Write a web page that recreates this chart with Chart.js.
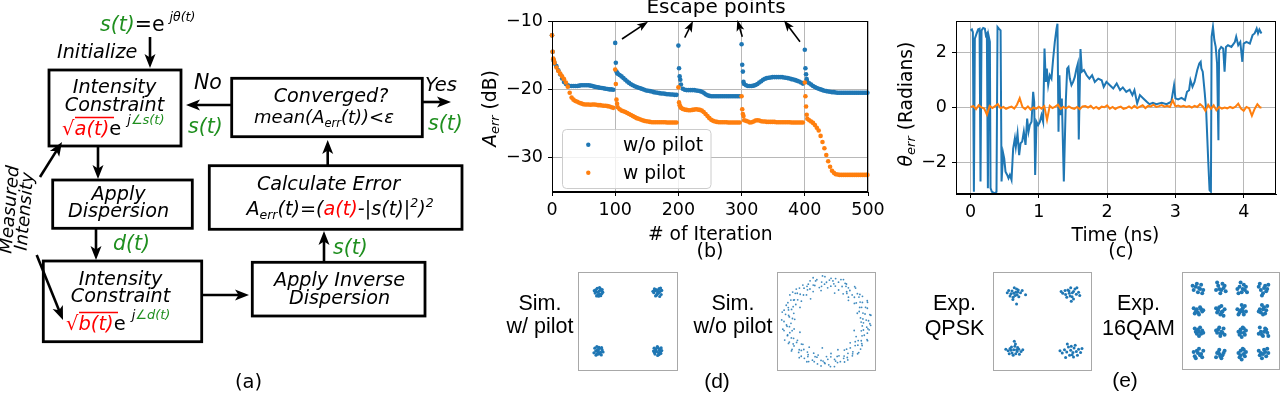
<!DOCTYPE html>
<html><head><meta charset="utf-8">
<script src="https://cdn.jsdelivr.net/npm/chart.js@4.4.1/dist/chart.umd.min.js"></script>
<style>
html,body{margin:0;padding:0;background:#fff;width:1280px;height:394px;overflow:hidden;font-family:"DejaVu Sans",sans-serif;}
.abs{position:absolute;}
.cbox{position:absolute;border:1px solid #a8a8a8;box-sizing:border-box;background:#fff;}
.cbox canvas{display:block;}
svg text{font-family:"DejaVu Sans",sans-serif;}
svg text.lib{font-family:"Liberation Sans",Arial,sans-serif;}
</style></head><body>
<canvas id="cb" class="abs" style="left:490px;top:0" width="400" height="250"></canvas>
<canvas id="cc" class="abs" style="left:885px;top:0" width="395" height="250"></canvas>
<div class="cbox" style="left:578px;top:272px;width:100px;height:99px"><canvas id="d1" width="98" height="97"></canvas></div>
<div class="cbox" style="left:777px;top:272px;width:99px;height:99px"><canvas id="d2" width="97" height="97"></canvas></div>
<div class="cbox" style="left:993px;top:272px;width:99px;height:99px"><canvas id="e1" width="97" height="97"></canvas></div>
<div class="cbox" style="left:1182px;top:272px;width:98px;height:98px"><canvas id="e2" width="96" height="96"></canvas></div>

<svg id="ov" class="abs" style="left:0;top:0;pointer-events:none" width="1280" height="394" viewBox="0 0 1280 394">
<!-- (a) flowchart -->
<g fill="none" stroke="#000" stroke-width="2.8">
<rect x="49" y="70" width="132" height="76"/>
<rect x="52.7" y="180" width="139.6" height="48.3"/>
<rect x="43.3" y="261" width="158.4" height="80.7"/>
<rect x="252.3" y="262.3" width="172.7" height="53.7"/>
<rect x="209.3" y="165.7" width="252.7" height="63.6"/>
<rect x="231.7" y="78.3" width="190.6" height="58.4"/>
</g>
<g font-style="italic" font-size="19.2" fill="#000">
<text x="100" y="31" font-size="20.5"><tspan fill="#1f8f1f">s(t)</tspan><tspan font-style="normal">=e</tspan><tspan font-size="12.5" dy="-10" dx="5">jθ(t)</tspan></text>
<text x="57" y="57.5">Initialize</text>
<text x="114.5" y="92.7" text-anchor="middle">Intensity</text>
<text x="114.5" y="110.7" text-anchor="middle">Constraint</text>
<text x="62" y="135" font-size="19.5"><tspan fill="#ff0000">√a(t)</tspan><tspan font-style="normal">e</tspan><tspan font-size="13" dy="-11" dx="6">j</tspan><tspan font-size="13" fill="#1f8f1f">∠s(t)</tspan></text>
<text x="118.5" y="200" text-anchor="middle">Apply</text>
<text x="118.5" y="216.7" text-anchor="middle">Dispersion</text>
<text x="113" y="250" font-size="20.5" fill="#1f8f1f">d(t)</text>
<text x="120.5" y="285" text-anchor="middle">Intensity</text>
<text x="120.5" y="301.7" text-anchor="middle">Constraint</text>
<text x="66" y="330" font-size="19.5"><tspan fill="#ff0000">√b(t)</tspan><tspan font-style="normal">e</tspan><tspan font-size="13" dy="-11" dx="6">j</tspan><tspan font-size="13" fill="#1f8f1f">∠d(t)</tspan></text>
<text x="339.5" y="285.7" text-anchor="middle">Apply Inverse</text>
<text x="339.5" y="304" text-anchor="middle">Dispersion</text>
<text x="333" y="254" font-size="20.5" fill="#1f8f1f">s(t)</text>
<text x="328.5" y="190" text-anchor="middle">Calculate Error</text>
<text x="340" y="215" text-anchor="middle">A<tspan font-size="12.5" dy="4">err</tspan><tspan dy="-4">(t)=(</tspan><tspan fill="#ff0000">a(t)</tspan>-|s(t)|<tspan font-size="12.5" dy="-8">2</tspan><tspan dy="8">)</tspan><tspan font-size="12.5" dy="-8">2</tspan></text>
<text x="331" y="101.7" text-anchor="middle">Converged?</text>
<text x="324" y="123.3" text-anchor="middle" font-size="18">mean(A<tspan font-size="11.5" dy="4">err</tspan><tspan dy="-4">(t))&lt;ε</tspan></text>
<text x="194" y="89" font-size="20.5">No</text>
<text x="188" y="132.5" font-size="20.5" fill="#1f8f1f">s(t)</text>
<text x="425" y="90.5" font-size="19.5">Yes</text>
<text x="428" y="130" font-size="20.5" fill="#1f8f1f">s(t)</text>
<text transform="translate(15,210) rotate(-85)" text-anchor="middle" font-size="18">Measured</text>
<text transform="translate(30,212) rotate(-85)" text-anchor="middle" font-size="18">Intensity</text>
</g>
<line x1="75" y1="117.5" x2="114" y2="117.5" stroke="#ff0000" stroke-width="1.4"/>
<line x1="79" y1="312.5" x2="118" y2="312.5" stroke="#ff0000" stroke-width="1.4"/>
<text x="248.5" y="387.5" text-anchor="middle" font-size="19.5">(a)</text>
<g id="arrows"></g>

<!-- (b) texts -->
<text x="716" y="13" text-anchor="middle" font-size="20">Escape points</text>
<text x="710.3" y="240" text-anchor="middle" font-size="18.7">&#35; of Iteration</text>
<text x="710" y="257" text-anchor="middle" font-size="19">(b)</text>
<text transform="translate(496,108.5) rotate(-90)" text-anchor="middle" font-size="18.7"><tspan font-style="italic">A</tspan><tspan font-style="italic" font-size="13" dy="3">err</tspan><tspan dy="-3"> (dB)</tspan></text>
<rect x="562.5" y="129.5" width="148.5" height="59" rx="4" fill="#fff" fill-opacity="0.8" stroke="#cccccc" stroke-width="1"/>
<circle cx="588.3" cy="144.7" r="2.2" fill="#1f77b4"/>
<text x="623" y="151" font-size="18.7">w/o pilot</text>
<circle cx="588.3" cy="172.7" r="2.2" fill="#ff7f0e"/>
<text x="623" y="179" font-size="18.7">w pilot</text>

<!-- (c) texts -->
<text x="1115.5" y="240.7" text-anchor="middle" font-size="18.7">Time (ns)</text>
<text x="1121" y="257" text-anchor="middle" font-size="19">(c)</text>
<text transform="translate(912,104) rotate(-90)" text-anchor="middle" font-size="18.7"><tspan font-style="italic">θ</tspan><tspan font-style="italic" font-size="13" dy="3">err</tspan><tspan dy="-3"> (Radians)</tspan></text>

<!-- (d),(e) labels -->
<g font-size="21.5" text-anchor="middle">
<text class="lib" x="540" y="310">Sim.</text><text class="lib" x="540" y="333">w/ pilot</text>
<text class="lib" x="733" y="310">Sim.</text><text class="lib" x="733" y="333">w/o pilot</text>
<text class="lib" x="954.5" y="310">Exp.</text><text class="lib" x="954.5" y="335">QPSK</text>
<text class="lib" x="1138.5" y="310">Exp.</text><text class="lib" x="1138.5" y="335">16QAM</text>
</g>
<text class="lib" x="717" y="388" text-anchor="middle" font-size="21">(d)</text>
<text class="lib" x="1125" y="386.5" text-anchor="middle" font-size="21">(e)</text>
</svg>

<script>
// ---------- (b) A_err vs iteration ----------
const iterations = [
0,1,2,3,4,7,10,13,16,19,22,25,28,31,34,37,40,43,46,49,52,55,58,61,64,67,70,73,76,79,82,85,88,91,94,97,
100,101,102,103,104,107,110,113,116,119,122,125,128,131,134,137,140,143,146,149,152,155,158,161,164,167,170,173,176,179,182,185,188,191,194,197,
200,201,202,203,204,207,210,213,216,219,222,225,228,231,234,237,240,243,246,249,252,255,258,261,264,267,270,273,276,279,282,285,288,291,294,297,
300,301,302,303,304,307,310,313,316,319,322,325,328,331,334,337,340,343,346,349,352,355,358,361,364,367,370,373,376,379,382,385,388,391,394,397,
400,401,402,403,404,407,410,413,416,419,422,425,428,431,434,437,440,443,446,449,452,455,458,461,464,467,470,473,476,479,482,485,488,491,494,497,
499];
const aerrNoPilot = [
-12.1,-14.5,-15.6,-15.9,-16.2,-16.6,-17.2,-17.8,-18.4,-18.9,-19.2,-19.4,-19.5,-19.5,-19.5,-19.5,-19.5,-19.45,-19.4,-19.4,-19.4,-19.4,-19.4,-19.45,-19.5,-19.6,-19.65,-19.7,-19.75,-19.8,-19.85,-19.9,-19.95,-20.0,-20.0,-20.05,
-13.2,-16.1,-17.4,-17.6,-17.7,-17.9,-18.1,-18.35,-18.6,-18.85,-19.05,-19.25,-19.4,-19.55,-19.65,-19.75,-19.85,-19.95,-20.05,-20.15,-20.2,-20.25,-20.3,-20.4,-20.45,-20.5,-20.55,-20.6,-20.6,-20.65,-20.7,-20.7,-20.75,-20.75,-20.8,-20.8,
-13.6,-16.9,-18.1,-18.6,-19.3,-19.9,-20.05,-20.1,-20.1,-20.1,-20.1,-20.1,-20.15,-20.2,-20.25,-20.35,-20.5,-20.7,-20.85,-20.95,-21.0,-21.0,-21.0,-21.0,-21.0,-21.0,-21.0,-21.0,-21.0,-21.0,-21.0,-21.0,-21.0,-21.0,-21.0,-21.0,
-13.4,-16.4,-17.4,-18.9,-19.2,-19.4,-19.5,-19.5,-19.5,-19.45,-19.35,-19.2,-19.0,-18.8,-18.6,-18.45,-18.35,-18.3,-18.25,-18.2,-18.2,-18.2,-18.2,-18.2,-18.2,-18.25,-18.3,-18.35,-18.4,-18.5,-18.55,-18.65,-18.75,-18.85,-19.0,-19.15,
-14.2,-16.9,-17.8,-18.5,-18.9,-19.1,-19.3,-19.5,-19.65,-19.8,-19.9,-20.0,-20.1,-20.2,-20.25,-20.3,-20.35,-20.4,-20.4,-20.45,-20.5,-20.5,-20.5,-20.5,-20.5,-20.5,-20.5,-20.5,-20.5,-20.5,-20.5,-20.5,-20.5,-20.5,-20.5,-20.5,
-20.5];
const aerrPilot = [
-12.1,-14.5,-15.5,-15.8,-16.1,-16.8,-17.3,-17.7,-18.1,-18.5,-19.0,-19.6,-20.5,-21.2,-21.5,-21.7,-21.8,-21.95,-22.05,-22.15,-22.2,-22.2,-22.2,-22.25,-22.2,-22.2,-22.25,-22.3,-22.3,-22.35,-22.4,-22.4,-22.45,-22.5,-22.6,-22.7,
-17.1,-19.2,-21.5,-22.1,-22.6,-22.9,-23.1,-23.2,-23.3,-23.45,-23.6,-23.75,-23.9,-24.05,-24.2,-24.3,-24.4,-24.5,-24.6,-24.65,-24.7,-24.75,-24.8,-24.8,-24.8,-24.8,-24.8,-24.8,-24.8,-24.8,-24.85,-24.85,-24.85,-24.85,-24.85,-24.85,
-19.7,-21.9,-22.3,-22.5,-22.7,-22.85,-22.95,-23.0,-23.05,-23.05,-23.0,-22.95,-22.9,-22.95,-23.0,-23.1,-23.3,-23.6,-23.9,-24.2,-24.45,-24.6,-24.7,-24.75,-24.8,-24.8,-24.8,-24.8,-24.8,-24.85,-24.85,-24.85,-24.85,-24.85,-24.85,-24.85,
-21.0,-22.9,-23.6,-23.9,-24.5,-24.6,-24.7,-24.85,-24.8,-24.7,-24.55,-24.5,-24.55,-24.65,-24.7,-24.7,-24.75,-24.75,-24.75,-24.75,-24.75,-24.8,-24.8,-24.8,-24.8,-24.8,-24.8,-24.8,-24.8,-24.85,-24.85,-24.85,-24.85,-24.85,-24.85,-24.85,
-19.0,-21.0,-22.5,-23.7,-24.3,-24.5,-24.7,-24.9,-25.2,-25.6,-26.0,-26.8,-27.7,-28.6,-29.6,-30.5,-31.3,-31.9,-32.2,-32.4,-32.45,-32.5,-32.5,-32.5,-32.5,-32.5,-32.5,-32.5,-32.5,-32.5,-32.5,-32.5,-32.5,-32.5,-32.5,-32.5,
-32.5];
const bTicksX = [0,100,200,300,400,500];
const bTicksY = [-30,-20,-10];

// ---------- (c) theta_err vs time ----------
const thetaNoPilotT = [0,0.02,0.034,0.049,0.063,0.088,0.112,0.132,0.146,0.161,0.185,0.21,0.224,0.239,0.254,0.268,0.283,0.293,0.312,0.33,0.356,0.38,0.395,0.415,0.44,0.454,0.478,0.493,0.512,0.537,0.556,0.576,0.60,0.624,0.649,0.663,0.688,0.712,0.732,0.756,0.78,0.805,0.829,0.849,0.868,0.893,0.917,0.932,0.946,0.966,0.99,1.015,1.039,1.063,1.083,1.102,1.117,1.137,1.161,1.185,1.21,1.234,1.259,1.273,1.288,1.302,1.317,1.337,1.366,1.395,1.415,1.434,1.454,1.478,1.502,1.527,1.551,1.571,1.585,1.61,1.63,1.66,1.70,1.74,1.78,1.82,1.87,1.92,1.95,1.99,2.04,2.09,2.14,2.19,2.23,2.28,2.33,2.37,2.40,2.44,2.48,2.53,2.58,2.62,2.67,2.72,2.80,2.87,2.94,2.98,3.0,3.04,3.09,3.14,3.17,3.20,3.22,3.25,3.28,3.32,3.35,3.37,3.38,3.40,3.43,3.45,3.48,3.50,3.52,3.53,3.55,3.57,3.59,3.61,3.63,3.64,3.67,3.70,3.72,3.74,3.77,3.82,3.87,3.89,3.92,3.95,3.98,4.0,4.04,4.09,4.13,4.16,4.19,4.21,4.23,4.26];
const thetaNoPilotV = [2.80,2.84,2.74,-3.06,2.50,2.68,2.84,2.86,-2.69,2.80,2.89,2.86,2.62,2.68,-2.93,2.56,2.38,-2.93,-3.06,-3.08,-3.12,-3.06,2.92,2.86,2.80,-2.69,-1.67,-1.85,-2.33,-2.45,-2.57,-2.45,-2.63,-1.49,-1.12,-1.43,-0.94,-1.73,-1.30,-1.24,-0.88,-1.36,-0.40,-0.88,-0.64,-0.52,0.57,0.21,-2.45,-0.52,-0.64,-0.52,-0.28,-0.52,2.14,0.93,1.41,0.81,1.17,1.05,1.78,2.38,2.86,3.04,-0.88,1.17,-0.28,0.33,-2.69,0.21,1.41,1.47,1.05,0.81,0.93,1.11,1.41,1.59,-1.16,2.12,1.30,1.36,1.17,1.05,1.17,0.93,1.05,0.99,0.75,0.93,0.81,0.69,0.87,0.63,0.73,0.57,0.65,0.45,0.63,0.15,0.45,0.33,0.21,0.12,0.17,0.12,0.17,0.12,0.21,0.81,0.33,0.29,0.35,0.27,0.57,0.63,0.99,0.75,0.93,1.36,1.60,1.66,1.42,1.30,0.51,-0.10,-1.91,-3.0,-3.06,2.57,2.93,2.45,2.2,1.6,-1.19,2.08,2.2,2.14,1.30,2.2,2.26,2.2,2.38,2.57,2.26,2.38,1.66,2.32,2.38,2.32,2.63,2.69,2.87,2.69,2.83,2.69];
const thetaPilotT = [0,0.04,0.08,0.12,0.16,0.20,0.24,0.28,0.32,0.36,0.40,0.44,0.48,0.52,0.56,0.60,0.64,0.68,0.72,0.76,0.80,0.84,0.88,0.92,0.96,1.00,1.04,1.08,1.12,1.16,1.20,1.24,1.28,1.32,1.36,1.40,1.44,1.48,1.52,1.56,1.60,1.64,1.68,1.72,1.76,1.80,1.84,1.88,1.92,1.96,2.00,2.04,2.08,2.12,2.16,2.20,2.24,2.28,2.32,2.36,2.40,2.44,2.48,2.52,2.56,2.60,2.64,2.68,2.72,2.76,2.80,2.84,2.88,2.92,2.96,3.00,3.04,3.08,3.12,3.16,3.20,3.24,3.28,3.32,3.36,3.40,3.44,3.48,3.52,3.56,3.60,3.64,3.68,3.72,3.76,3.80,3.84,3.88,3.92,3.96,4.00,4.04,4.08,4.12,4.16,4.20,4.24,4.26];
const thetaPilotV = [0.02,0.05,-0.06,0.08,0.0,-0.04,-0.26,0.06,-0.02,0.05,0.12,-0.03,0.02,-0.05,0.0,0.03,-0.04,0.10,0.34,0.02,-0.06,0.04,-0.08,0.0,-0.05,0.03,-0.04,0.05,-0.45,0.06,-0.02,0.03,0.10,-0.05,0.02,-0.03,0.04,-0.02,-0.05,0.02,-0.06,0.04,0.05,0.0,0.06,-0.04,0.02,-0.05,0.03,0.01,0.08,-0.04,0.02,-0.06,0.0,0.03,-0.05,-0.02,0.04,-0.03,0.06,-0.02,0.03,0.08,-0.02,0.06,0.04,0.10,0.02,0.05,0.09,0.03,0.06,0.02,0.26,0.04,0.07,0.03,0.06,0.02,0.05,0.0,0.06,0.02,0.12,0.04,-0.12,0.10,-0.05,0.08,-0.10,0.02,-0.04,0.0,-0.03,0.02,-0.02,0.03,0.14,-0.04,-0.12,0.02,-0.03,-0.30,-0.05,0.12,0.0,0.0];
const cTicksX = [0,1,2,3,4];
const cTicksY = [-2,0,2];

// ---------- (d) simulated constellations ----------
const simPilotPts = [
[-0.98,1.05],[-1.08,1.03],[-0.89,0.96],[-1.03,0.91],[-0.94,1.12],[-1.12,0.98],[-0.91,1.07],[-1.05,1.14],[-0.86,1.01],[-1.0,0.87],[-1.1,1.09],[-0.96,0.94],[-1.15,1.06],[-0.93,0.89],[-1.02,1.0],[-0.88,1.1],[-1.07,0.88],[-0.97,1.17],
[1.03,0.97],[0.92,1.06],[1.1,1.04],[0.97,0.9],[1.06,1.13],[0.88,0.99],[1.13,0.93],[0.95,1.1],[1.01,1.02],[1.08,0.86],[0.9,1.12],[1.15,1.07],[0.99,0.95],[0.85,1.04],[1.05,1.0],[0.94,0.88],[1.11,1.15],[1.0,1.08],
[-1.04,-0.97],[-0.93,-1.06],[-1.1,-1.02],[-0.99,-0.89],[-1.07,-1.13],[-0.88,-0.98],[-1.13,-0.92],[-0.96,-1.1],[-1.01,-1.01],[-0.91,-1.15],[-1.06,-0.86],[-0.85,-1.05],[-1.16,-1.08],[-0.97,-0.93],[-1.03,-1.04],[-0.9,-0.9],[-1.09,-1.16],[-1.0,-1.12],
[0.97,-1.03],[1.08,-0.95],[0.9,-1.07],[1.02,-0.9],[1.12,-1.1],[0.94,-0.97],[1.06,-1.14],[0.87,-1.02],[1.15,-1.0],[1.0,-0.86],[0.92,-1.12],[1.09,-1.05],[0.96,-0.93],[1.04,-1.08],[1.13,-0.91],[0.89,-0.92],[1.01,-1.17],[1.07,-0.99]];
const ringAngleDeg = [2,6,9,13,15,20,23,25,30,33,37,39,44,46,51,54,57,59,64,66,71,74,76,81,84,88,90,95,98,100,105,108,112,114,119,121,125,129,131,136,139,141,146,149,152,156,158,163,166,168,173,176,180,183,185,190,193,197,200,202,207,210,213,217,220,224,226,231,234,236,241,244,248,250,255,258,261,265,268,270,275,278,282,285,287,292,295,299,302,304,309,312,316,318,323,326,329,333,336,340,342,347,350,353,357,359];
const ringRadius = [0.86,0.74,0.95,0.81,0.69,0.9,0.78,0.98,0.84,0.72,0.88,0.93,0.66,0.8,0.97,0.75,0.87,0.7,0.92,0.83,0.96,0.64,0.79,0.89,0.94,0.73,0.85,0.99,0.77,0.68,0.91,0.82,0.95,0.71,0.87,0.8,0.6,0.93,0.76,0.88,0.97,0.7,0.84,0.9,0.65,0.79,0.94,0.86,0.73,0.98,0.81,0.69,0.92,0.77,0.87,0.96,0.72,0.83,0.9,0.62,0.8,0.95,0.75,0.88,0.99,0.71,0.85,0.78,0.93,0.67,0.82,0.97,0.74,0.89,0.8,0.94,0.58,0.86,0.91,0.76,0.98,0.7,0.84,0.92,0.79,0.66,0.88,0.95,0.73,0.83,0.9,0.77,0.97,0.69,0.85,0.93,0.8,0.72,0.96,0.87,0.63,0.82,0.91,0.78,0.94,0.75];
const ringAngleDeg2 = [1,4,8,11,17,18,22,27,28,32,35,41,42,48,49,53,56,62,61,68,69,73,79,78,83,86,92,93,97,103,102,107,110,116,117,123,124,127,133,134,138,143,144,147,151,154,160,161,165,171,170,175,178,187,188,192,195,199,204,205,209,215,214,219,222,228,229,233,238,239,242,246,252,253,256,263,262,267,272,273,277,280,283,289,290,294,297,300,306,307,311,314,320,321,325,328,331,335,338,344,345,349,352,355,358];
const ringRadius2 = [0.91,0.79,0.97,0.85,0.74,0.93,0.82,0.99,0.88,0.76,0.95,0.8,0.9,0.71,0.96,0.84,0.78,0.92,0.87,0.98,0.73,0.89,0.83,0.95,0.77,0.9,0.97,0.81,0.86,0.93,0.75,0.99,0.84,0.9,0.79,0.94,0.87,0.72,0.96,0.82,0.91,0.78,0.98,0.85,0.76,0.93,0.88,0.8,0.95,0.83,0.9,0.74,0.97,0.86,0.81,0.94,0.77,0.89,0.99,0.84,0.92,0.79,0.87,0.96,0.73,0.9,0.83,0.98,0.78,0.93,0.86,0.95,0.8,0.91,0.75,0.97,0.85,0.89,0.82,0.94,0.77,0.99,0.88,0.92,0.79,0.96,0.84,0.9,0.74,0.93,0.87,0.97,0.81,0.95,0.76,0.9,0.86,0.98,0.83,0.92,0.78,0.94,0.88,0.96,0.8];

// ---------- (e) experimental constellations ----------
const expQpskPts = [
[-0.95,1.04],[-1.12,0.98],[-0.86,1.12],[-1.04,0.86],[-0.9,0.95],[-1.2,1.1],[-1.0,1.2],[-0.78,1.02],[-1.08,1.08],[-0.97,0.92],[-1.15,0.9],[-0.84,0.88],[-1.02,1.0],[-0.92,1.15],[-1.25,1.02],[-0.72,1.1],[-1.05,0.78],[-0.88,1.05],[-0.6,0.95],[-0.92,0.62],
[0.95,1.0],[1.1,1.06],[0.82,0.96],[1.05,0.88],[1.2,0.97],[0.9,1.12],[1.0,1.2],[0.72,1.0],[1.15,1.15],[0.98,0.9],[1.28,1.04],[0.86,0.86],[1.06,1.02],[0.94,1.08],[1.32,0.92],[0.66,1.06],[1.1,0.8],[0.8,1.1],[1.02,0.72],[1.22,1.2],
[-1.02,-1.0],[-0.9,-1.06],[-1.15,-0.96],[-0.98,-0.88],[-1.08,-1.12],[-0.84,-0.98],[-1.22,-1.04],[-0.95,-1.14],[-1.1,-0.9],[-0.88,-0.92],[-1.3,-0.98],[-0.76,-1.06],[-1.04,-1.2],[-0.96,-0.8],[-0.7,-1.0],[-1.18,-1.14],[-1.0,-0.7],[-0.82,-1.16],[-1.12,-1.02],[-0.92,-1.0],
[1.0,-1.02],[1.12,-0.94],[0.86,-1.08],[1.05,-1.18],[1.2,-1.06],[0.92,-0.9],[1.28,-0.98],[0.78,-1.0],[1.1,-1.26],[0.96,-1.2],[1.35,-1.1],[0.7,-1.12],[1.16,-0.84],[0.88,-0.8],[1.02,-0.88],[1.24,-1.2],[0.82,-1.28],[1.4,-0.96],[0.62,-1.04],[1.08,-1.1]];
const exp16qamPts = [
[-3.3,3.2],[-2.8,3.4],[-3.1,2.7],[-2.6,2.9],[-3.5,2.9],[-2.9,3.0],[-3.2,3.5],[-2.7,2.6],[-3.0,3.1],[-3.6,3.3],
[-1.2,3.3],[-0.7,3.1],[-1.0,2.6],[-1.4,2.9],[-0.8,3.5],[-1.1,3.0],[-0.5,2.8],[-1.3,3.6],[-0.9,2.9],[-0.6,3.3],
[0.8,3.2],[1.2,3.4],[1.0,2.7],[0.6,3.0],[1.3,2.9],[0.9,3.6],[1.4,3.2],[0.7,2.6],[1.1,3.0],[1.5,2.7],
[3.2,3.3],[2.8,2.9],[3.0,2.6],[3.4,3.0],[2.7,3.5],[3.1,3.1],[2.9,2.4],[3.5,3.4],[3.3,2.8],[2.6,3.2],
[-3.2,1.1],[-2.7,0.9],[-3.4,0.7],[-2.9,1.3],[-3.1,0.8],[-2.6,1.0],[-3.5,1.2],[-3.0,0.6],[-2.8,1.1],[-3.3,0.9],
[-1.1,1.3],[-0.8,0.9],[-1.3,0.8],[-0.9,1.4],[-1.0,0.6],[-0.6,1.1],[-1.2,1.0],[-0.7,0.5],[-1.4,1.2],[-0.9,0.8],
[1.1,1.2],[0.8,0.8],[1.3,1.4],[0.9,1.0],[1.2,0.6],[0.6,1.1],[1.0,1.5],[1.4,0.9],[0.7,0.6],[1.1,0.9],
[3.1,1.3],[2.8,0.8],[3.3,1.0],[2.9,1.5],[3.0,0.6],[3.4,1.4],[2.7,1.1],[3.2,0.7],[2.6,0.9],[3.0,1.1],
[-3.1,-0.8],[-2.8,-1.2],[-3.3,-1.0],[-2.9,-0.6],[-3.0,-1.4],[-3.4,-0.7],[-2.7,-0.9],[-3.2,-1.2],[-2.6,-1.1],[-3.0,-1.0],
[-1.2,-0.8],[-0.8,-1.1],[-1.0,-1.4],[-1.3,-1.1],[-0.7,-0.7],[-1.1,-0.6],[-0.9,-1.0],[-1.4,-0.9],[-0.6,-1.3],[-1.0,-1.2],
[0.9,-0.8],[1.2,-1.1],[0.8,-1.3],[1.1,-0.6],[1.4,-0.9],[0.7,-1.0],[1.0,-1.5],[1.3,-1.3],[0.9,-1.1],[1.2,-0.7],
[3.2,-0.7],[2.8,-1.0],[3.0,-1.4],[3.4,-1.1],[2.7,-0.6],[3.1,-1.0],[2.9,-1.3],[3.3,-0.8],[2.6,-1.2],[3.5,-1.4],
[-3.2,-2.8],[-2.8,-3.1],[-3.4,-3.3],[-3.0,-2.6],[-2.7,-3.4],[-3.5,-2.9],[-3.1,-3.0],[-2.6,-2.8],[-3.3,-3.5],[-2.9,-3.2],
[-1.1,-2.7],[-0.8,-3.2],[-1.3,-3.0],[-0.9,-3.5],[-1.2,-2.9],[-0.6,-2.8],[-1.0,-3.3],[-1.4,-3.4],[-0.7,-3.0],[-1.1,-3.1],
[0.9,-2.8],[1.2,-3.1],[0.8,-3.4],[1.1,-2.6],[1.3,-3.3],[0.7,-3.0],[1.0,-3.6],[1.4,-2.9],[0.9,-3.2],[1.2,-2.7],
[3.1,-2.7],[2.8,-3.0],[3.3,-3.3],[2.9,-3.5],[3.2,-2.9],[2.7,-3.2],[3.4,-2.6],[3.0,-3.1],[2.6,-2.8],[3.5,-3.0]];

const BLUE = '#1f77b4', ORANGE = '#ff7f0e';
Chart.defaults.font.family = "'DejaVu Sans', sans-serif";
Chart.defaults.color = '#000';

const fmt = v => String(v).replace('-', '\u2212');
const fixedTicks = arr => scale => { scale.ticks = arr.map(v => ({value: v})); };
const framePlugin = {
  id: 'frame',
  afterDatasetsDraw(chart) {
    const a = chart.chartArea, ctx = chart.ctx;
    ctx.save(); ctx.strokeStyle = '#000'; ctx.lineWidth = 1;
    ctx.strokeRect(Math.round(a.left) + 0.5, Math.round(a.top) + 0.5, Math.round(a.right - a.left) - 1, Math.round(a.bottom - a.top) - 1);
    ctx.restore();
  }
};
function axisX(min, max, ticks, h) {
  return {type: 'linear', min, max, afterBuildTicks: fixedTicks(ticks),
    afterFit(s) { s.height = h; s.paddingLeft = 0; s.paddingRight = 0; },
    grid: {color: '#b8b8b8', lineWidth: 1, drawTicks: true, tickLength: 4, tickColor: '#000', tickWidth: 1},
    border: {display: true, color: '#000', width: 1},
    ticks: {color: '#000', font: {size: 17.5}, padding: 4, maxRotation: 0, autoSkip: false, callback: v => fmt(v)}};
}
function axisY(min, max, ticks, w) {
  return {type: 'linear', min, max, afterBuildTicks: fixedTicks(ticks),
    afterFit(s) { s.width = w; s.paddingTop = 0; s.paddingBottom = 0; },
    grid: {color: '#b8b8b8', lineWidth: 1, drawTicks: true, tickLength: 4, tickColor: '#000', tickWidth: 1},
    border: {display: true, color: '#000', width: 1},
    ticks: {color: '#000', font: {size: 17.5}, padding: 5, autoSkip: false, callback: v => fmt(v)}};
}
const common = {responsive: false, animation: false, events: [],
  plugins: {legend: {display: false}, tooltip: {enabled: false}}};

new Chart(document.getElementById('cb'), {
  type: 'scatter',
  data: {datasets: [
    {label: 'w pilot', data: iterations.map((x, i) => ({x, y: aerrPilot[i]})), backgroundColor: ORANGE, borderColor: ORANGE, pointBorderWidth: 0, pointRadius: 2.3, clip: false},
    {label: 'w/o pilot', data: iterations.map((x, i) => ({x, y: aerrNoPilot[i]})), backgroundColor: BLUE, borderColor: BLUE, pointBorderWidth: 0, pointRadius: 2.3, clip: false}
  ]},
  options: Object.assign({}, common, {
    layout: {padding: {left: 0, right: 22, top: 21, bottom: 0}, autoPadding: false},
    scales: {x: axisX(0, 500, bTicksX, 58), y: axisY(-35, -10, bTicksY, 62)}
  }),
  plugins: [framePlugin]
});

new Chart(document.getElementById('cc'), {
  type: 'line',
  data: {datasets: [
    {label: 'w pilot', data: thetaPilotT.map((t, i) => ({x: t, y: thetaPilotV[i]})), borderColor: ORANGE, borderWidth: 2, pointRadius: 0, tension: 0, fill: false},
    {label: 'w/o pilot', data: thetaNoPilotT.map((t, i) => ({x: t, y: thetaNoPilotV[i]})), borderColor: BLUE, borderWidth: 2, pointRadius: 0, tension: 0, fill: false}
  ]},
  options: Object.assign({}, common, {
    layout: {padding: {left: 0, right: 4, top: 21, bottom: 0}, autoPadding: false},
    scales: {x: axisX(-0.213, 4.473, cTicksX, 56), y: axisY(-Math.PI, Math.PI, cTicksY, 71)}
  }),
  plugins: [framePlugin]
});

function constellation(id, pts, lim, r, color) {
  new Chart(document.getElementById(id), {
    type: 'scatter',
    data: {datasets: [{data: pts.map(p => ({x: p[0], y: p[1]})), backgroundColor: color, pointBorderWidth: 0, pointRadius: r}]},
    options: Object.assign({}, common, {
      layout: {padding: 0, autoPadding: false},
      scales: {x: {display: false, min: -lim, max: lim}, y: {display: false, min: -lim, max: lim}}
    })
  });
}
constellation('d1', simPilotPts, 1.67, 1.6, BLUE);
const toXY = (angles, radii) => angles.map((a, i) => [radii[i] * Math.cos(a * Math.PI / 180), radii[i] * Math.sin(a * Math.PI / 180)]);
const ringPts = toXY(ringAngleDeg, ringRadius).concat(toXY(ringAngleDeg2, ringRadius2));
constellation('d2', ringPts, 1.05, 0.9, 'rgba(31,119,180,0.85)');
constellation('e1', expQpskPts, 1.72, 1.5, BLUE);
constellation('e2', exp16qamPts, 4.5, 2.0, BLUE);

// arrows (annotation graphics)
const NS = 'http://www.w3.org/2000/svg';
const ag = document.getElementById('arrows');
function arrow(x1, y1, x2, y2, lw, hl, hw) {
  const dx = x2 - x1, dy = y2 - y1, L = Math.hypot(dx, dy), ux = dx / L, uy = dy / L;
  const ln = document.createElementNS(NS, 'line');
  ln.setAttribute('x1', x1); ln.setAttribute('y1', y1);
  ln.setAttribute('x2', x2 - ux * hl * 0.6); ln.setAttribute('y2', y2 - uy * hl * 0.6);
  ln.setAttribute('stroke', '#000'); ln.setAttribute('stroke-width', lw);
  ag.appendChild(ln);
  const bx = x2 - ux * hl, by = y2 - uy * hl, nx = x2 - ux * hl * 0.75, ny = y2 - uy * hl * 0.75;
  const p = document.createElementNS(NS, 'polygon');
  p.setAttribute('points', `${x2},${y2} ${bx - uy * hw / 2},${by + ux * hw / 2} ${nx},${ny} ${bx + uy * hw / 2},${by - ux * hw / 2}`);
  p.setAttribute('fill', '#000');
  ag.appendChild(p);
}
[[150,37,150,68],[231.7,105,186,105],[422.3,102,451,102],[327.7,165.7,327.7,140],[324,262.3,324,231],
 [98,146,98,179],[96,228.3,96,260],[201.7,295,249,295],[40,177,62,142],[36.7,255,63,320]]
 .forEach(a => arrow(a[0], a[1], a[2], a[3], 2.6, 14, 11));
[[622,39,648,21.7],[684.7,37.7,693,21],[742.3,36.7,737.3,20],[800,41.7,784,20.5]]
 .forEach(a => arrow(a[0], a[1], a[2], a[3], 1.6, 11, 8));
</script>
</body></html>
